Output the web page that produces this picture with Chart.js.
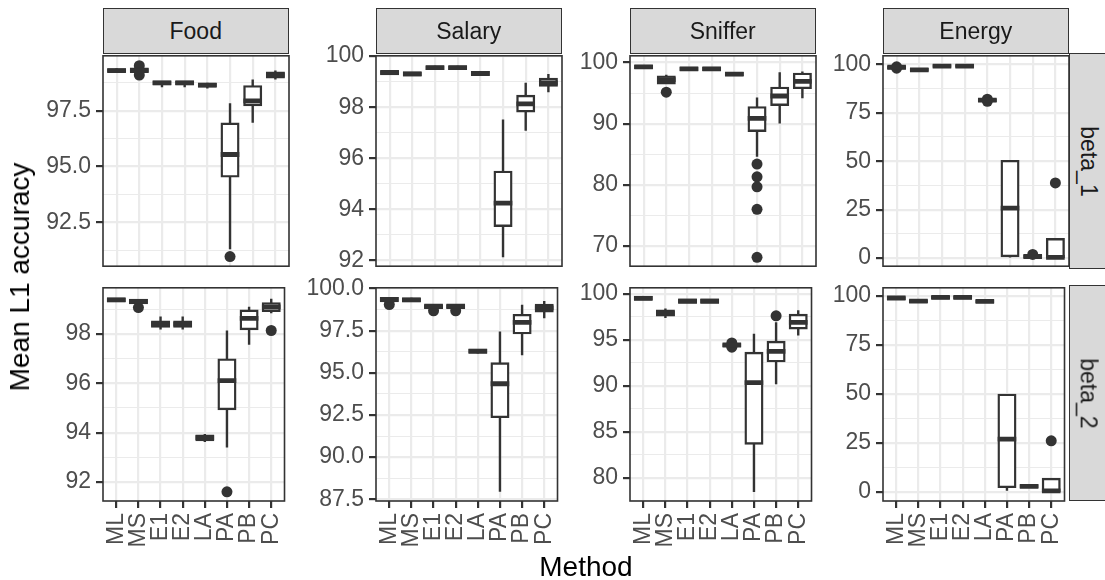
<!DOCTYPE html>
<html>
<head>
<meta charset="utf-8">
<script src="https://cdn.jsdelivr.net/npm/chart.js@4/dist/chart.umd.min.js"></script>
<style>
  html, body { margin: 0; padding: 0; background: #ffffff; }
  body { width: 1105px; height: 580px; overflow: hidden; position: relative;
         font-family: "Liberation Sans", Arial, sans-serif; }
  canvas { position: absolute; }
  .strip { position: absolute; background: #d9d9d9; border: 1.5px solid #333333; box-sizing: border-box;
           display: flex; align-items: center; justify-content: center; color: #1a1a1a; font-size: 23px; }
  .rstrip { border-right: none; }
  .rstrip span { display: block; white-space: nowrap; transform: rotate(90deg); }
  .title { position: absolute; font-size: 28px; line-height: 28px; color: #000000; white-space: nowrap; }
</style>
</head>
<body>
<script>
// ---------------- data ----------------
const methods = ["ML", "MS", "E1", "E2", "LA", "PA", "PB", "PC"];
const facets = ["Food", "Salary", "Sniffer", "Energy"];
const params = ["beta_1", "beta_2"];
const xTitle = "Method";
const yTitle = "Mean L1 accuracy";

// box stats per method: [lower whisker, Q1, median, Q3, upper whisker]
const foodB1 = [
  [99.20, 99.25, 99.30, 99.35, 99.40],
  [99.20, 99.25, 99.30, 99.38, 99.45],
  [98.55, 98.70, 98.75, 98.80, 98.82],
  [98.55, 98.70, 98.75, 98.80, 98.82],
  [98.50, 98.60, 98.65, 98.70, 98.75],
  [91.30, 94.56, 95.54, 96.92, 97.83],
  [96.96, 97.76, 97.94, 98.59, 98.90],
  [98.90, 99.00, 99.10, 99.20, 99.30]
];
const foodB1Out = [[], [99.52, 99.10], [], [], [], [90.97], [], []];

const salaryB1 = [
  [99.28, 99.30, 99.36, 99.40, 99.44],
  [99.22, 99.25, 99.30, 99.35, 99.37],
  [99.47, 99.50, 99.55, 99.58, 99.62],
  [99.47, 99.50, 99.55, 99.58, 99.62],
  [99.25, 99.27, 99.32, 99.37, 99.40],
  [92.13, 93.36, 94.25, 95.47, 97.52],
  [97.08, 97.84, 98.13, 98.44, 98.96],
  [98.58, 98.85, 98.95, 99.10, 99.30]
];
const salaryB1Out = [[], [], [], [], [], [], [], []];

const snifferB1 = [
  [99.00, 99.15, 99.30, 99.45, 99.60],
  [96.50, 96.60, 97.20, 97.70, 98.00],
  [98.70, 98.80, 98.95, 99.10, 99.20],
  [98.70, 98.80, 98.95, 99.10, 99.20],
  [97.85, 97.95, 98.10, 98.25, 98.30],
  [84.60, 88.85, 90.87, 92.67, 94.27],
  [90.02, 93.10, 94.53, 95.86, 98.41],
  [94.16, 95.86, 96.93, 98.14, 98.52]
];
const snifferB1Out = [[], [95.15], [], [], [], [83.39, 81.32, 79.67, 76.00, 68.15], [], []];

const energyB1 = [
  [97.50, 98.00, 98.50, 98.80, 99.20],
  [96.50, 96.80, 97.10, 97.50, 97.70],
  [98.60, 98.80, 99.10, 99.40, 99.60],
  [98.60, 98.80, 99.10, 99.40, 99.60],
  [80.80, 81.10, 81.50, 81.90, 82.20],
  [0.30, 1.10, 25.75, 50.05, 50.05],
  [0.20, 0.40, 0.80, 1.20, 1.50],
  [0.00, 0.00, 0.40, 9.70, 9.70]
];
const energyB1Out = [[98.70, 98.00], [], [], [], [82.00, 80.90], [], [1.90], [38.80]];

const foodB2 = [
  [99.30, 99.33, 99.38, 99.43, 99.46],
  [99.20, 99.25, 99.32, 99.38, 99.40],
  [98.18, 98.30, 98.40, 98.50, 98.71],
  [98.18, 98.30, 98.40, 98.50, 98.71],
  [93.62, 93.70, 93.80, 93.88, 93.95],
  [93.40, 94.96, 96.11, 96.96, 98.14],
  [97.56, 98.20, 98.63, 98.94, 99.10],
  [98.84, 98.94, 99.10, 99.24, 99.43]
];
const foodB2Out = [[], [99.07], [], [], [], [91.60], [], [98.14]];

const salaryB2 = [
  [99.20, 99.25, 99.35, 99.42, 99.45],
  [99.22, 99.25, 99.33, 99.40, 99.45],
  [98.80, 98.85, 98.95, 99.00, 99.05],
  [98.80, 98.85, 98.95, 99.00, 99.05],
  [96.15, 96.20, 96.28, 96.35, 96.40],
  [87.95, 92.39, 94.35, 95.55, 97.45],
  [96.04, 97.35, 97.99, 98.42, 99.03],
  [98.23, 98.65, 98.85, 99.02, 99.26]
];
const salaryB2Out = [[99.05], [], [98.68], [98.68], [], [], [], []];

const snifferB2 = [
  [99.35, 99.40, 99.50, 99.65, 99.70],
  [97.35, 97.65, 97.85, 98.15, 98.40],
  [99.00, 99.05, 99.20, 99.35, 99.40],
  [99.00, 99.05, 99.20, 99.35, 99.40],
  [94.30, 94.35, 94.43, 94.50, 94.55],
  [78.49, 83.74, 90.35, 93.57, 95.64],
  [90.17, 92.68, 93.75, 94.75, 96.90],
  [95.47, 96.25, 96.89, 97.68, 98.21]
];
const snifferB2Out = [[], [], [], [], [94.65, 94.20], [], [97.60], []];

const energyB2 = [
  [98.30, 98.60, 99.00, 99.30, 99.50],
  [96.80, 97.00, 97.40, 97.70, 97.90],
  [98.60, 98.90, 99.30, 99.60, 99.80],
  [98.60, 98.90, 99.30, 99.60, 99.80],
  [96.60, 96.90, 97.30, 97.60, 97.80],
  [0.50, 2.50, 26.90, 49.50, 49.50],
  [2.00, 2.40, 2.80, 3.20, 3.50],
  [0.00, 0.00, 0.50, 6.50, 6.50]
];
const energyB2Out = [[], [], [], [], [], [], [], [26.05]];

// y tick labels per panel
const foodB1Ticks = ["92.5", "95.0", "97.5"];
const salaryB1Ticks = ["92", "94", "96", "98", "100"];
const snifferB1Ticks = ["70", "80", "90", "100"];
const energyB1Ticks = ["0", "25", "50", "75", "100"];
const foodB2Ticks = ["92", "94", "96", "98"];
const salaryB2Ticks = ["87.5", "90.0", "92.5", "95.0", "97.5", "100.0"];
const snifferB2Ticks = ["80", "85", "90", "95", "100"];
const energyB2Ticks = ["0", "25", "50", "75", "100"];

// y axis limits per panel
const foodB1Lim = [90.54, 99.96];
const salaryB1Lim = [91.78, 100.01];
const snifferB1Lim = [66.7, 101.1];
const energyB1Lim = [-4.2, 104.4];
const foodB2Lim = [91.23, 99.87];
const salaryB2Lim = [87.4, 100.04];
const snifferB2Lim = [77.5, 100.64];
const energyB2Lim = [-4.7, 104.2];

// ---------------- layout ----------------
const FONT = '"Liberation Sans", Arial, sans-serif';
const colLeft = [103, 376, 630, 883];
const rowTop = [53, 285];
const panelW = 185.5;
const panelH = 216;
const AXW = 80;   // reserved width for y axis
const PAD = 16;   // padding around panel inside canvas
const XAH = 62;   // x axis height (bottom row)
const DARK = '#333333';
const GRID = '#ebebeb';

const panels = [
  { col: 0, row: 0, stats: foodB1, out: foodB1Out, ticks: foodB1Ticks, lim: foodB1Lim },
  { col: 1, row: 0, stats: salaryB1, out: salaryB1Out, ticks: salaryB1Ticks, lim: salaryB1Lim },
  { col: 2, row: 0, stats: snifferB1, out: snifferB1Out, ticks: snifferB1Ticks, lim: snifferB1Lim },
  { col: 3, row: 0, stats: energyB1, out: energyB1Out, ticks: energyB1Ticks, lim: energyB1Lim },
  { col: 0, row: 1, stats: foodB2, out: foodB2Out, ticks: foodB2Ticks, lim: foodB2Lim },
  { col: 1, row: 1, stats: salaryB2, out: salaryB2Out, ticks: salaryB2Ticks, lim: salaryB2Lim },
  { col: 2, row: 1, stats: snifferB2, out: snifferB2Out, ticks: snifferB2Ticks, lim: snifferB2Lim },
  { col: 3, row: 1, stats: energyB2, out: energyB2Out, ticks: energyB2Ticks, lim: energyB2Lim }
];

const panelBorder = {
  id: 'panelBorder',
  afterDraw(chart) {
    const a = chart.chartArea, ctx = chart.ctx;
    ctx.save();
    ctx.strokeStyle = DARK;
    ctx.lineWidth = 1.6;
    ctx.strokeRect(a.left, a.top, a.right - a.left, a.bottom - a.top);
    ctx.restore();
  }
};

function makePanel(p) {
  const L = colLeft[p.col], T = rowTop[p.row];
  const bottomRow = p.row === 1;
  const cw = Math.ceil(AXW + panelW + PAD);
  const ch = PAD + panelH + (bottomRow ? XAH : PAD);
  const cv = document.createElement('canvas');
  cv.width = cw; cv.height = ch;
  cv.style.left = (L - AXW) + 'px';
  cv.style.top = (T - PAD) + 'px';
  cv.style.width = cw + 'px';
  cv.style.height = ch + 'px';
  document.body.appendChild(cv);

  const majors = p.ticks.map(Number);
  const step = majors[1] - majors[0];
  const yTicks = majors.map((v, i) => ({ value: v, isMajor: true, text: p.ticks[i] }));
  for (let v = majors[0] - step / 2; v <= p.lim[1]; v += step) {
    if (v >= p.lim[0]) yTicks.push({ value: v, isMajor: false, text: '' });
  }
  yTicks.sort((a, b) => a.value - b.value);

  const whiskers = {
    type: 'bar', order: 4, grouped: false,
    data: p.stats.map((s, i) => ({ x: i + 1, y: [s[0], s[4]] })),
    backgroundColor: DARK, borderWidth: 0, barThickness: 2.4, maxBarThickness: 2.4, inflateAmount: 0
  };
  const outliers = {
    type: 'scatter', order: 3,
    data: p.out.flatMap((arr, i) => arr.map(v => ({ x: i + 1, y: v }))),
    pointRadius: 5.5, pointBackgroundColor: DARK, pointBorderColor: DARK, pointBorderWidth: 0
  };
  const boxes = {
    type: 'bar', order: 2, grouped: false,
    data: p.stats.map((s, i) => ({ x: i + 1, y: [s[1], s[3]] })),
    backgroundColor: '#ffffff', borderColor: DARK, borderWidth: 2.4, borderSkipped: false,
    barThickness: 16.6, maxBarThickness: 16.6, inflateAmount: 1.2
  };
  const medians = {
    type: 'scatter', order: 1,
    data: p.stats.map((s, i) => ({ x: i + 1, y: s[2] })),
    pointStyle: 'line', pointRadius: 9.3, pointBorderColor: DARK, pointBorderWidth: 4.8
  };

  new Chart(cv, {
    type: 'bar',
    data: { datasets: [whiskers, outliers, boxes, medians] },
    options: {
      responsive: false, maintainAspectRatio: false, animation: false, devicePixelRatio: 1,
      events: [],
      layout: { padding: { left: 0, top: PAD, right: PAD, bottom: bottomRow ? 0 : PAD } },
      plugins: { legend: { display: false }, tooltip: { enabled: false } },
      scales: {
        x: {
          type: 'linear', min: 0.4, max: 8.6, offset: false,
          afterBuildTicks: s => { s.ticks = methods.map((m, i) => ({ value: i + 1 })); },
          afterFit: s => { s.height = bottomRow ? XAH : 0; },
          grid: { offset: false, color: GRID, lineWidth: 2.2, drawTicks: bottomRow, tickLength: 7,
                  tickColor: DARK, tickWidth: 2.2 },
          border: { display: false },
          ticks: { display: bottomRow, autoSkip: false, minRotation: 90, maxRotation: 90, padding: 5,
                   color: '#4d4d4d', font: { size: 23, family: FONT },
                   callback: (v, i) => methods[i] }
        },
        y: {
          type: 'linear', min: p.lim[0], max: p.lim[1],
          afterBuildTicks: s => { s.ticks = yTicks.map(t => ({ value: t.value, isMajor: t.isMajor, text: t.text })); },
          afterFit: s => { s.width = AXW; },
          grid: {
            color: GRID,
            lineWidth: c => (c.tick && c.tick.isMajor) ? 2.2 : 1.1,
            tickLength: 7,
            tickColor: c => (c.tick && c.tick.isMajor) ? DARK : 'rgba(0,0,0,0)',
            tickWidth: 2.2
          },
          border: { display: false },
          ticks: { autoSkip: false, padding: 5, color: '#4d4d4d', font: { size: 23, family: FONT },
                   callback: (v, i, ts) => ts[i].text || '' }
        }
      }
    },
    plugins: [panelBorder]
  });
}

panels.forEach(makePanel);

// strips
facets.forEach((name, c) => {
  const d = document.createElement('div');
  d.className = 'strip';
  d.style.left = colLeft[c] + 'px';
  d.style.top = '8px';
  d.style.width = panelW + 'px';
  d.style.height = '46px';
  d.textContent = name;
  document.body.appendChild(d);
});
params.forEach((name, r) => {
  const d = document.createElement('div');
  d.className = 'strip rstrip';
  d.style.left = (colLeft[3] + panelW + 0.5) + 'px';
  d.style.top = rowTop[r] + 'px';
  d.style.width = '38px';
  d.style.height = panelH + 'px';
  const s = document.createElement('span');
  s.textContent = name;
  d.appendChild(s);
  document.body.appendChild(d);
});

// axis titles
const xt = document.createElement('div');
xt.className = 'title';
xt.textContent = xTitle;
xt.style.left = '586px';
xt.style.top = '553px';
xt.style.transform = 'translateX(-50%)';
document.body.appendChild(xt);

const yt = document.createElement('div');
yt.className = 'title';
yt.textContent = yTitle;
yt.style.left = '20px';
yt.style.top = '277px';
yt.style.transform = 'translate(-50%, -50%) rotate(-90deg)';
document.body.appendChild(yt);
</script>
</body>
</html>
